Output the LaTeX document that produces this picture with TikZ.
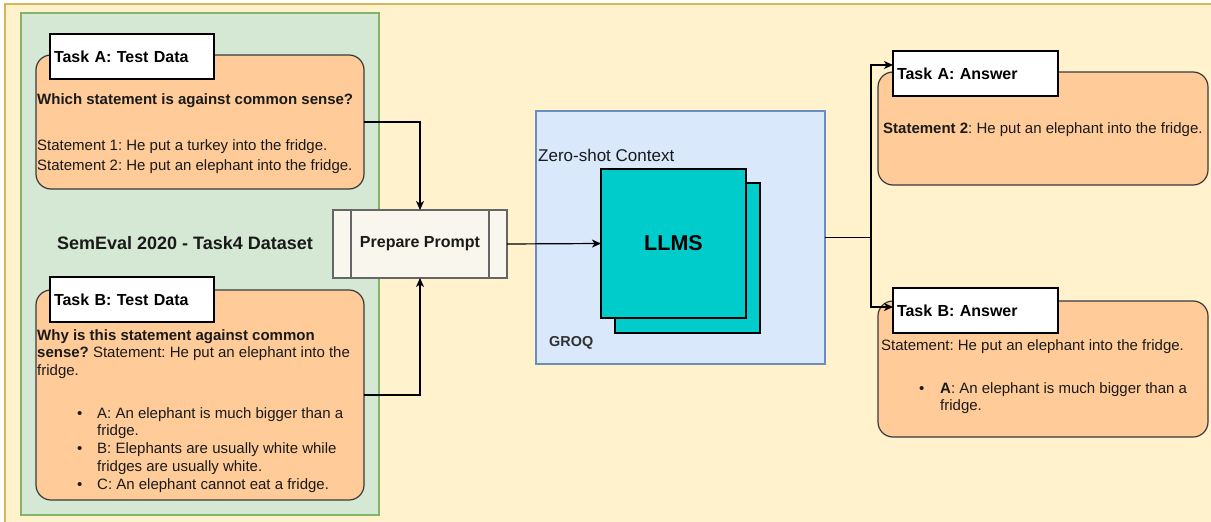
\documentclass[tikz,border=0pt]{standalone}
\usepackage{fontspec}
\setmainfont{Liberation Sans}
\usetikzlibrary{arrows.meta}
\frenchspacing
\definecolor{bgY}{HTML}{FFF2CC}
\definecolor{bgYb}{HTML}{D6B656}
\definecolor{grF}{HTML}{D5E8D4}
\definecolor{grB}{HTML}{82B366}
\definecolor{orF}{HTML}{FFCC99}
\definecolor{orB}{HTML}{36393D}
\definecolor{blF}{HTML}{DAE8FC}
\definecolor{blB}{HTML}{6C8EBF}
\definecolor{tealF}{HTML}{00CCCC}
\definecolor{ppF}{HTML}{F9F7ED}
\definecolor{ppB}{HTML}{666666}
\definecolor{txtC}{HTML}{1A1A1A}
\tikzset{
  box/.style={anchor=north west, inner sep=0pt, outer sep=0pt},
  orbox/.style={box, draw=orB, fill=orF, line width=1.2pt, rounded corners=15pt},
  ttlbox/.style={box, draw=black, fill=white, line width=1.2pt, inner xsep=4pt,
    text width=#1, align=left, minimum height=45pt, font=\fontsize{16}{19}\selectfont\bfseries},
  txt/.style={anchor=base west, inner sep=0pt, text=txtC, font=\fontsize{15}{18}\selectfont},
  conn/.style={line width=1.2pt, draw=black},
  arr/.style={conn, -{Stealth[length=9pt,width=8pt,inset=2.5pt]}},
}
\begin{document}
\begin{tikzpicture}[x=1pt,y=-1pt]
\useasboundingbox (0,0) rectangle (1211,522);
\clip (0,0) rectangle (1211,522);
\fill[white] (0,0) rectangle (1211,522);
% backgrounds
\draw[fill=bgY, draw=bgYb, line width=1.2pt] (5,4) rectangle (1230,540);
\node[box, draw=grB, fill=grF, line width=1.2pt, minimum width=358pt, minimum height=502pt] (ds) at (21,13) {};
\node[box, draw=blB, fill=blF, line width=1.2pt, minimum width=289pt, minimum height=253pt] (ctx) at (536,111) {};

% Task A test data
\node[orbox, minimum width=328pt, minimum height=134pt] (tA) at (36,55) {};
\node[ttlbox=156pt] (tAt) at (50,34) {Task A: Test Data};
\node[txt, font=\fontsize{15}{18}\selectfont\bfseries] (tA1) at (37,104) {Which statement is against common sense?};
\node[txt] (tA2) at (37,150) {Statement 1: He put a turkey into the fridge.};
\node[txt] (tA3) at (37,170) {Statement 2: He put an elephant into the fridge.};

\node[anchor=center, inner sep=0pt, font=\fontsize{18}{21}\selectfont\bfseries, text=txtC] (sem) at (185,243) {SemEval 2020 - Task4 Dataset};

% Task B test data
\node[orbox, minimum width=328pt, minimum height=210pt] (tB) at (36,290) {};
\node[ttlbox=156pt] (tBt) at (50,277) {Task B: Test Data};
\node[txt] (tB1) at (37,340) {\textbf{Why is this statement against common}};
\node[txt] (tB2) at (37,357) {\textbf{sense?} Statement: He put an elephant into the};
\node[txt] (tB3) at (37,375) {fridge.};
\node[txt] (tBb1) at (77,418) {\textbullet};
\node[txt] (tBa1) at (97,418) {A: An elephant is much bigger than a};
\node[txt] (tBa2) at (97,435) {fridge.};
\node[txt] (tBb2) at (77,453) {\textbullet};
\node[txt] (tBa3) at (97,453) {B: Elephants are usually white while};
\node[txt] (tBa4) at (97,471) {fridges are usually white.};
\node[txt] (tBb3) at (77,489) {\textbullet};
\node[txt] (tBa5) at (97,489) {C: An elephant cannot eat a fridge.};

% Prepare prompt
\node[box, draw=ppB, fill=ppF, line width=1.2pt, minimum width=174pt, minimum height=68pt] (pp) at (333,210) {};
\draw[draw=ppB, line width=1.2pt] ([xshift=18pt]pp.north west) -- ([xshift=18pt]pp.south west);
\draw[draw=ppB, line width=1.2pt] ([xshift=-18pt]pp.north east) -- ([xshift=-18pt]pp.south east);
\node[inner sep=0pt, text=txtC, font=\fontsize{16}{19}\selectfont\bfseries] (ppt) at (pp.center) {Prepare Prompt};

% Context
\node[anchor=base west, inner sep=0pt, text=txtC, font=\fontsize{17}{20}\selectfont] (zs) at (538,161) {Zero-shot Context};
\node[box, draw=black, fill=tealF, line width=1.2pt, minimum width=145pt, minimum height=150pt] (llmb) at (615,183) {};
\node[box, draw=black, fill=tealF, line width=1.2pt, minimum width=145pt, minimum height=149pt] (llm) at (601,169) {};
\node[inner sep=0pt, font=\fontsize{21.5}{25}\selectfont\bfseries] (llmt) at (llm.center) {LLMS};
\node[anchor=base west, inner sep=0pt, text=txtC!90, font=\fontsize{14.4}{17}\selectfont\bfseries] (groq) at (549,346) {GROQ};

% Answers
\node[orbox, minimum width=330pt, minimum height=113pt] (aA) at (878,72) {};
\node[ttlbox=157pt] (aAt) at (893,51) {Task A: Answer};
\node[txt] (aA1) at (883,133) {\textbf{Statement 2}: He put an elephant into the fridge.};

\node[orbox, minimum width=330pt, minimum height=136pt] (aB) at (878,301) {};
\node[ttlbox=157pt] (aBt) at (893,288) {Task B: Answer};
\node[txt] (aB1) at (881,350) {Statement: He put an elephant into the fridge.};
\node[txt] (aBb) at (919,393) {\textbullet};
\node[txt] (aB2) at (940,393) {\textbf{A}: An elephant is much bigger than a};
\node[txt] (aB3) at (940,410) {fridge.};

% connectors
\draw[arr] (tA.east) -| (pp.north);
\draw[arr] (tB.east) -| (pp.south);
\draw[arr] (pp.east) -- (llm.west);
\coordinate (jA) at (871,65);
\coordinate (jB) at (871,307);
\draw[arr] (ctx.east) -| (jA) -- (aAt.west |- jA);
\draw[arr] (ctx.east) -| (jB) -- (aBt.west |- jB);
\end{tikzpicture}
\end{document}
